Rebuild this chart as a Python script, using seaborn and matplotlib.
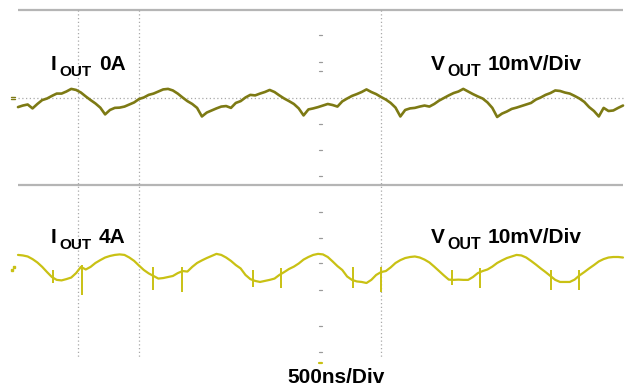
import numpy as np
import pandas as pd
import matplotlib
matplotlib.use("Agg")
import matplotlib.pyplot as plt
import seaborn as sns

# ---------------- data (read from the scope captures) ----------------
# sample times, ns (500 ns/div, 10 div)
time_ns = [0, 40, 80, 120, 160, 200, 240, 280, 320, 360, 400, 440, 480, 520, 560, 600,
           640, 680, 720, 760, 800, 840, 880, 920, 960, 1000, 1040, 1080, 1120, 1160, 1200,
           1240, 1280, 1320, 1360, 1400, 1440, 1480, 1520, 1560, 1600, 1640, 1680, 1720, 1760,
           1800, 1840, 1880, 1920, 1960, 2000, 2040, 2080, 2120, 2160, 2200, 2240, 2280, 2320,
           2360, 2400, 2440, 2480, 2520, 2560, 2600, 2640, 2680, 2720, 2760, 2800, 2840, 2880,
           2920, 2960, 3000, 3040, 3080, 3120, 3160, 3200, 3240, 3280, 3320, 3360, 3400, 3440,
           3480, 3520, 3560, 3600, 3640, 3680, 3720, 3760, 3800, 3840, 3880, 3920, 3960, 4000,
           4040, 4080, 4120, 4160, 4200, 4240, 4280, 4320, 4360, 4400, 4440, 4480, 4520, 4560,
           4600, 4640, 4680, 4720, 4760, 4800, 4840, 4880, 4920, 4960, 5000]

# V_OUT ripple at I_OUT = 0 A, mV
vout_0a_mv = [-3.5, -2.9, -2.5, -4.0, -2.3, -0.8, -0.2, 0.8, 1.7, 1.7, 2.5, 3.5, 3.1, 2.1, 0.6, -0.8,
              -2.1, -3.7, -6.3, -4.6, -3.8, -3.7, -3.3, -2.5, -1.7, -0.4, 0.2, 1.2, 1.7, 2.5, 3.3,
              3.5, 2.9, 1.7, 0.2, -1.2, -2.3, -3.8, -7.1, -5.6, -4.8, -4.0, -3.3, -3.1, -3.8,
              -1.9, -1.2, 0.2, 1.2, 1.0, 1.7, 2.3, 3.1, 2.3, 1.0, -0.2, -1.2, -2.3, -4.0,
              -6.7, -4.4, -4.0, -3.5, -2.9, -2.3, -2.7, -3.3, -1.3, -0.2, 0.8, 1.5, 2.3, 3.3,
              2.3, 1.5, 0.4, -0.6, -1.9, -3.7, -7.1, -4.6, -4.0, -3.8, -3.3, -2.9, -3.3, -2.3,
              -1.0, 0.0, 1.0, 1.9, 2.5, 3.5, 2.5, 1.5, 0.6, -0.2, -1.7, -3.8, -7.3, -6.0,
              -5.2, -4.2, -3.7, -3.1, -2.5, -1.9, -0.6, 0.2, 1.2, 1.9, 2.9, 2.7, 2.1, 1.7,
              0.8, -0.2, -1.5, -3.5, -5.0, -7.1, -3.8, -5.0, -4.8, -3.8, -2.9]

# V_OUT ripple at I_OUT = 4 A, mV
vout_4a_mv = [5.8, 5.6, 5.2, 4.2, 2.9, 1.2, -0.8, -2.7, -3.8, -4.0, -3.5, -2.9, -1.2, 1.2, 0.2, 1.2,
              2.7, 3.8, 4.8, 5.4, 5.8, 6.0, 5.8, 4.8, 3.5, 1.7, 0.0, -1.3, -2.3, -3.3, -3.1,
              -2.7, -2.3, -1.2, -0.4, -0.6, 1.2, 2.7, 3.7, 4.6, 5.4, 6.2, 5.8, 4.8, 3.5,
              1.9, 0.6, -1.9, -3.5, -4.2, -4.6, -4.2, -3.8, -3.3, -1.9, -0.8, 0.4, 1.3, 2.5,
              4.0, 5.0, 5.8, 6.2, 6.0, 5.0, 3.3, 1.5, 0.0, -2.5, -3.8, -4.4, -4.6, -5.0,
              -3.8, -1.9, -0.8, -0.4, 1.0, 2.7, 3.8, 4.6, 5.0, 5.2, 4.8, 4.0, 2.9, 1.3,
              -0.4, -2.1, -3.7, -3.8, -3.7, -3.8, -3.8, -2.7, -1.2, -0.4, 0.2, 1.3, 2.7, 3.7,
              4.6, 5.2, 5.8, 5.6, 4.8, 3.5, 2.1, 0.6, -0.8, -2.3, -3.8, -4.6, -4.6, -4.6,
              -3.7, -2.1, -0.8, 0.6, 1.9, 3.3, 4.2, 4.8, 5.0, 5.0, 4.8]

# switching spikes on the 4 A trace: time (ns), upper and lower extent (mV)
spike_t_ns = [289, 529, 1116, 1355, 1942, 2173, 2768, 3000, 3587, 3818, 4405, 4636]
spike_hi_mv = [0.0, 1.9, 1.2, 1.2, 0.0, 0.8, 1.2, 1.2, 0.0, 0.8, 0.0, 0.0]
spike_lo_mv = [-5.0, -9.6, -7.7, -8.5, -6.5, -6.9, -6.9, -8.5, -5.8, -6.9, -7.7, -7.7]

label_top = ("0A",)
label_bot = ("4A",)
scale_v = "10mV/Div"
scale_t = "500ns/Div"

# ---------------- style / layout ----------------
sns.set_theme(style="white")
plt.rcParams["font.family"] = ["Liberation Sans", "DejaVu Sans"]

W, H = 632, 389
X0 = 18
PX_NS = 500 / 60.5      # ns per pixel
PX_MV = 2.6             # pixels per mV
REF_BOT = 270           # screen row of the 4 A channel zero
REF_TOP = 98            # screen row of the 0 A channel zero

def X(px):
    return (px - X0) * PX_NS

def Y(py):
    return (REF_BOT - py) / PX_MV

top_offset = Y(REF_TOP)

C_TOP = "#7d7a14"
C_BOT = "#c9c114"
GRID = "#a9a9a9"

fig = plt.figure(figsize=(W / 100, H / 100), dpi=100)
ax = fig.add_axes([0, 0, 1, 1])
ax.set_xlim(X(0), X(W))
ax.set_ylim(Y(H), Y(0))
ax.axis("off")

# graticule pieces
ax.plot([X(18), X(623)], [Y(10), Y(10)], color="#b5b5b5", lw=1.6, solid_capstyle="butt")
ax.plot([X(18), X(623)], [Y(185), Y(185)], color="#b5b5b5", lw=1.6, solid_capstyle="butt")
ax.plot([X(18), X(623)], [Y(98), Y(98)], color=GRID, lw=0.9, ls=(0, (1, 2)))
for vx in (78, 139, 381):
    ax.plot([X(vx), X(vx)], [Y(10), Y(358)], color=GRID, lw=0.9, ls=(0, (1, 2)))
for ty in (35, 62, 71, 124, 150, 176, 212, 238, 263, 290, 326, 352):
    ax.plot([X(319), X(322)], [Y(ty), Y(ty)], color="#9a9a9a", lw=0.9)
ax.plot([X(319), X(322)], [Y(363), Y(363)], color=C_BOT, lw=1.6)

# channel reference markers
ax.plot([X(11), X(15)], [top_offset + 0.3, top_offset + 0.3], color=C_TOP, lw=1.0)
ax.plot([X(11), X(15)], [top_offset - 0.3, top_offset - 0.3], color=C_TOP, lw=1.0)
ax.plot([X(12)], [0.0], marker="s", ms=1.5, color=C_BOT, ls="none")
ax.plot([X(13.5)], [1.0], marker="s", ms=1.5, color=C_BOT, ls="none")

# traces
df_top = pd.DataFrame({"t": time_ns, "v": np.array(vout_0a_mv) + top_offset})
df_bot = pd.DataFrame({"t": time_ns, "v": np.array(vout_4a_mv)})
sns.lineplot(data=df_top, x="t", y="v", ax=ax, color=C_TOP, lw=1.9,
             estimator=None, sort=False, legend=False)
sns.lineplot(data=df_bot, x="t", y="v", ax=ax, color=C_BOT, lw=1.6,
             estimator=None, sort=False, legend=False)
ax.vlines(spike_t_ns, spike_lo_mv, spike_hi_mv, color=C_BOT, lw=1.4)
ax.set_xlim(X(0), X(W))
ax.set_ylim(Y(H), Y(0))
ax.axis("off")

# labels
def put(x_px, base_px, s, size):
    fig.text(x_px / W, 1 - base_px / H, s, fontsize=size, fontweight="bold",
             ha="left", va="baseline", color="black")

for base, tag in ((70, label_top[0]), (243, label_bot[0])):
    put(50.5, base, "I", 15)
    put(59.5, base + 6, "OUT", 11)
    put(99, base, tag, 15)
    put(431, base, "V", 15)
    put(447.5, base + 6, "OUT", 11.5)
    put(488, base, scale_v, 15)
put(287, 383, scale_t, 15)

fig.savefig("out.png", dpi=100)
